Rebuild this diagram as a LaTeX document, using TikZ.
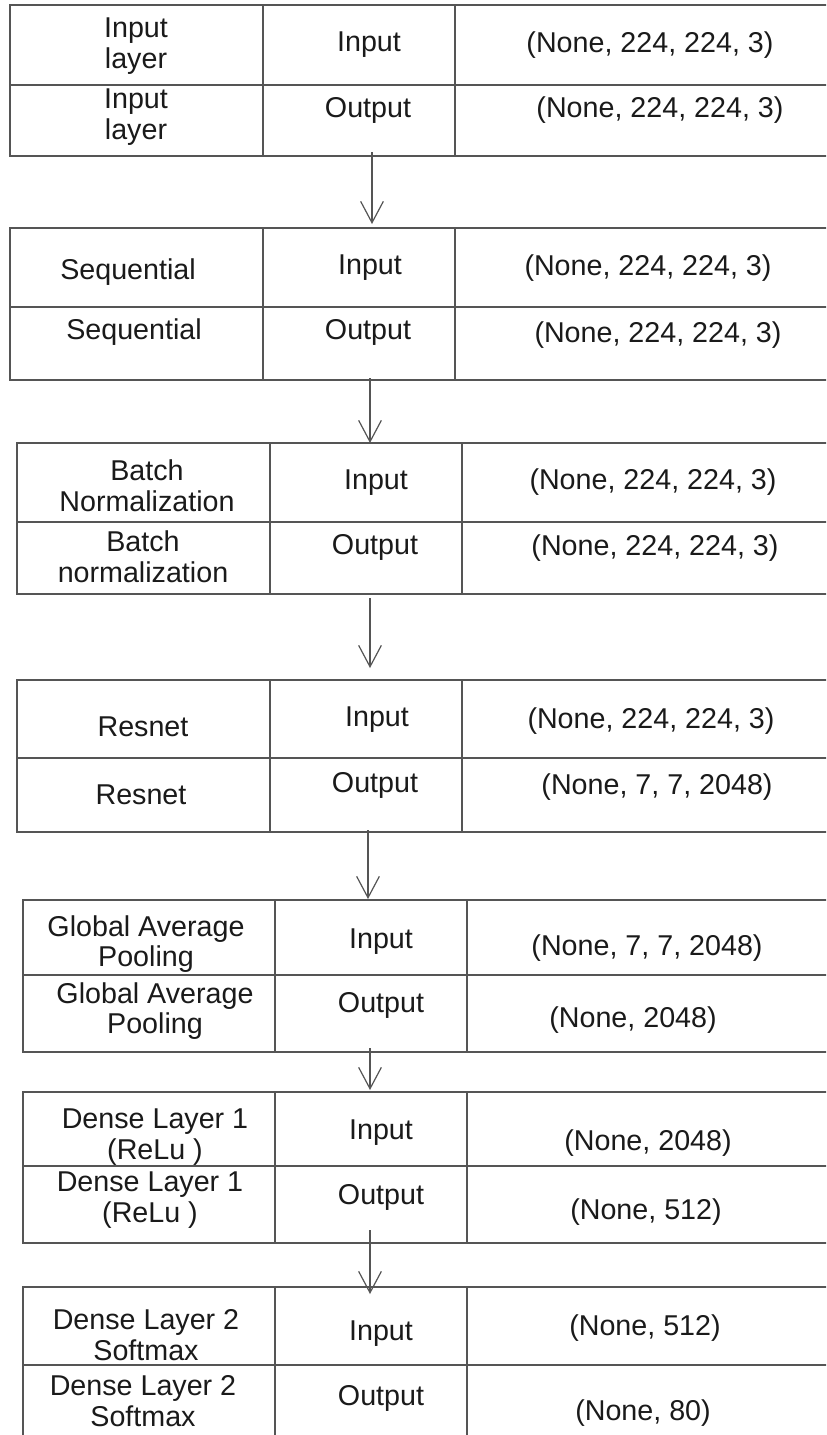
\documentclass[tikz,border=0pt]{standalone}
\usepackage{fontspec}
\setmainfont{Liberation Sans}
\usetikzlibrary{arrows.meta}
\definecolor{gridc}{HTML}{555555}
\definecolor{txtc}{HTML}{1A1A1A}
\tikzset{
  gridline/.style={draw=gridc, line width=1.1pt},
  cell/.style={text=txtc, font=\fontsize{21.5}{23}\selectfont, align=center, inner sep=0pt},
  flow/.style={draw=gridc, line width=0.9pt, -{Straight Barb[length=16pt,width=17pt,line width=0.9pt]}}
}
\begin{document}
\begin{tikzpicture}[x=0.75pt,y=-0.75pt]
\useasboundingbox (0,0) rectangle (826,1435);
\clip (0,0) rectangle (826,1435);
\fill[white] (0,0) rectangle (826,1435);

% tables: left, top, mid, bottom, col1, col2
\foreach \l/\t/\m/\b/\ca/\cb in {10/5/85/156/263/455, 10/228/307/380/263/455, 17/443/522/594/270/462, 17/680/758/832/270/462, 23/900/975/1052/275/467, 23/1092/1166/1243/275/467, 23/1287/1365/1450/275/467}{
  \draw[gridline] (840,\t) -- (\l,\t) -- (\l,\b) -- (840,\b);
  \draw[gridline] (\l,\m) -- (840,\m);
  \draw[gridline] (\ca,\t) -- (\ca,\b);
  \draw[gridline] (\cb,\t) -- (\cb,\b);
}

% table 1
\node[cell] (t1a) at (136,46) {Input\\layer};
\node[cell] (t1b) at (369,45) {Input};
\node[cell] (t1c) at (650,45) {(None, 224, 224, 3)};
\node[cell] (t1d) at (136,117) {Input\\layer};
\node[cell] (t1e) at (368,110) {Output};
\node[cell] (t1f) at (660,110) {(None, 224, 224, 3)};
% table 2
\node[cell] (t2a) at (128,272) {Sequential};
\node[cell] (t2b) at (370,268) {Input};
\node[cell] (t2c) at (648,268) {(None, 224, 224, 3)};
\node[cell] (t2d) at (134,332) {Sequential};
\node[cell] (t2e) at (368,332) {Output};
\node[cell] (t2f) at (658,335) {(None, 224, 224, 3)};
% table 3
\node[cell] (t3a) at (147,486) {Batch\\Normalization};
\node[cell] (t3b) at (376,483) {Input};
\node[cell] (t3c) at (653,482) {(None, 224, 224, 3)};
\node[cell] (t3d) at (143,557) {Batch\\normalization};
\node[cell] (t3e) at (375,547) {Output};
\node[cell] (t3f) at (655,548) {(None, 224, 224, 3)};
% table 4
\node[cell] (t4a) at (143,727) {Resnet};
\node[cell] (t4b) at (377,720) {Input};
\node[cell] (t4c) at (651,721) {(None, 224, 224, 3)};
\node[cell] (t4d) at (141,795) {Resnet};
\node[cell] (t4e) at (375,785) {Output};
\node[cell] (t4f) at (657,787) {(None, 7, 7, 2048)};
% table 5
\node[cell] (t5a) at (146,944) {Global Average\\Pooling};
\node[cell] (t5b) at (381,942) {Input};
\node[cell] (t5c) at (647,948) {(None, 7, 7, 2048)};
\node[cell] (t5d) at (155,1011) {Global Average\\Pooling};
\node[cell] (t5e) at (381,1005) {Output};
\node[cell] (t5f) at (633,1020) {(None, 2048)};
% table 6
\node[cell] (t6a) at (155,1137) {Dense Layer 1\\(ReLu )};
\node[cell] (t6b) at (381,1133) {Input};
\node[cell] (t6c) at (648,1143) {(None, 2048)};
\node[cell] (t6d) at (150,1200) {Dense Layer 1\\(ReLu )};
\node[cell] (t6e) at (381,1197) {Output};
\node[cell] (t6f) at (646,1212) {(None, 512)};
% table 7
\node[cell] (t7a) at (146,1335) {Dense Layer 2\\Softmax};
\node[cell] (t7b) at (381,1334) {Input};
\node[cell] (t7c) at (645,1328) {(None, 512)};
\node[cell] (t7d) at (143,1401) {Dense Layer 2\\Softmax};
\node[cell] (t7e) at (381,1398) {Output};
\node[cell] (t7f) at (643,1413) {(None, 80)};

% connectors
\coordinate (a1s) at (372,152); \coordinate (a1e) at (372,224);
\coordinate (a2s) at (370,378); \coordinate (a2e) at (370,443);
\coordinate (a3s) at (370,598); \coordinate (a3e) at (370,668);
\coordinate (a4s) at (368,830); \coordinate (a4e) at (368,899);
\coordinate (a5s) at (370,1048); \coordinate (a5e) at (370,1090);
\coordinate (a6s) at (370,1230); \coordinate (a6e) at (370,1294);
\draw[flow] (a1s) -- (a1e);
\draw[flow] (a2s) -- (a2e);
\draw[flow] (a3s) -- (a3e);
\draw[flow] (a4s) -- (a4e);
\draw[flow] (a5s) -- (a5e);
\draw[flow] (a6s) -- (a6e);
\end{tikzpicture}
\end{document}
